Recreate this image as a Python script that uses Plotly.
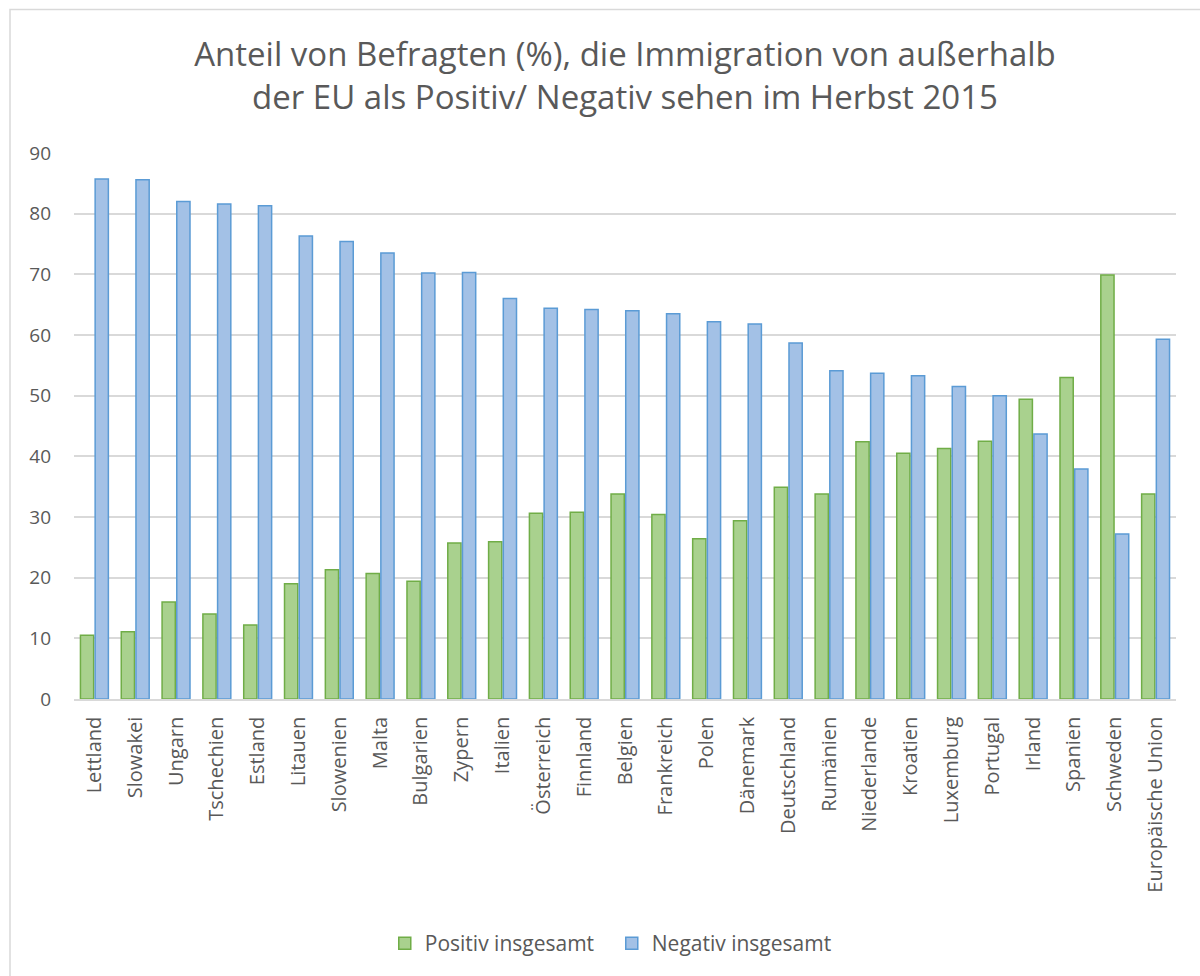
import plotly.graph_objects as go

categories = ["Lettland", "Slowakei", "Ungarn", "Tschechien", "Estland", "Litauen",
              "Slowenien", "Malta", "Bulgarien", "Zypern", "Italien", "Österreich",
              "Finnland", "Belgien", "Frankreich", "Polen", "Dänemark", "Deutschland",
              "Rumänien", "Niederlande", "Kroatien", "Luxemburg", "Portugal", "Irland",
              "Spanien", "Schweden", "Europäische Union"]
positiv = [10.5, 11.1, 16.0, 14.0, 12.2, 19.0, 21.3, 20.7, 19.4, 25.7, 25.9, 30.6,
           30.8, 33.8, 30.4, 26.4, 29.4, 34.9, 33.8, 42.4, 40.5, 41.3, 42.5, 49.4,
           53.0, 69.9, 33.8]
negativ = [85.7, 85.6, 82.0, 81.6, 81.3, 76.3, 75.4, 73.5, 70.2, 70.3, 66.0, 64.4,
           64.2, 64.0, 63.5, 62.2, 61.8, 58.7, 54.1, 53.7, 53.3, 51.5, 50.0, 43.7,
           37.9, 27.2, 59.3]
y_ticks = [0, 10, 20, 30, 40, 50, 60, 70, 80, 90]

FONT = "Open Sans"
GRAY = "#595959"

fig = go.Figure()
fig.add_trace(go.Bar(x=categories, y=positiv, name="Positiv insgesamt",
                     marker=dict(color="#a9d18e", line=dict(color="#70ad47", width=1.5))))
fig.add_trace(go.Bar(x=categories, y=negativ, name="Negativ insgesamt",
                     marker=dict(color="#a3c1e6", line=dict(color="#5b9bd5", width=1.5))))

fig.update_layout(
    width=1200, height=976,
    margin=dict(l=74, r=24, t=153, b=275),
    paper_bgcolor="white", plot_bgcolor="white",
    barmode="group", bargap=0.28, bargroupgap=0.1,
    font=dict(family=FONT, color=GRAY, size=16),
    title=dict(text="Anteil von Befragten (%), die Immigration von außerhalb<br>der EU als Positiv/ Negativ sehen im Herbst 2015",
               x=0.5, xref="paper", xanchor="center", y=0.932, yanchor="top",
               font=dict(family=FONT, size=33, color=GRAY)),
    legend=dict(orientation="h", x=0.488, xanchor="center", y=-0.448, yanchor="middle",
                font=dict(size=21, color=GRAY), itemwidth=30, traceorder="normal",
                entrywidth=182, entrywidthmode="pixels"),
    showlegend=True,
)
fig.update_yaxes(range=[0, 90], tickvals=y_ticks, showgrid=True, gridcolor="#d9d9d9",
                 gridwidth=1.5, zeroline=False, showline=False, ticks="",
                 tickfont=dict(size=19, color=GRAY), ticklabelstandoff=22)
fig.update_xaxes(showline=True, linecolor="#d9d9d9", linewidth=1.5, ticks="",
                 tickangle=-90, tickfont=dict(size=20, color=GRAY), ticklabelstandoff=8)

# chart-area border (left and top edges visible)
fig.add_shape(type="rect", xref="paper", yref="paper",
              x0=(10 - 74) / 1102, x1=(1230 - 74) / 1102,
              y0=(701 - 1000) / 548, y1=(701 - 9) / 548,
              line=dict(color="#d9d9d9", width=1.5), fillcolor="rgba(0,0,0,0)", layer="below")

fig.write_html("out.html")
